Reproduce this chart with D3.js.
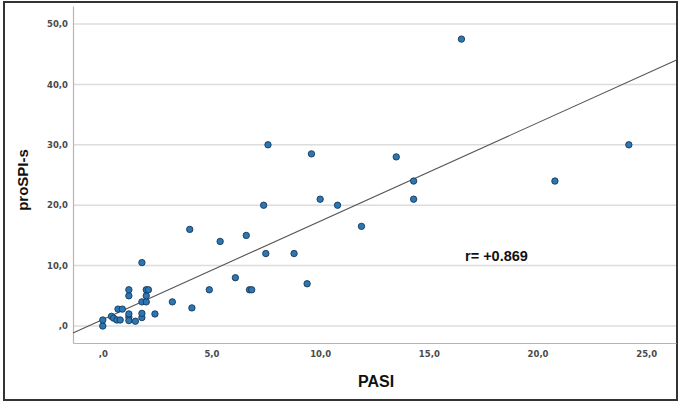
<!DOCTYPE html>
<html>
<head>
<meta charset="utf-8">
<script src="https://cdnjs.cloudflare.com/ajax/libs/d3/7.8.5/d3.min.js"></script>
<style>
body { margin: 0; background: #fff; }
.tick-label { font-family: "DejaVu Sans", sans-serif; font-weight: bold; font-size: 8.5px; fill: #4a4a4a; }
.axis-title { font-family: "Liberation Sans", Arial, sans-serif; font-weight: bold; fill: #111; }
</style>
</head>
<body>
<div class="scatter"></div>
<script>

// PASI vs proSPI-s
var pasi = [0.0, 0.0, 0.4, 0.5, 0.65, 0.8, 0.7, 0.9, 1.2, 1.2, 1.5, 1.2, 1.2, 1.2,
            1.8, 1.8, 1.8, 2.0, 2.0, 2.0, 2.1, 2.4, 1.8, 3.2, 4.1, 4.9,
            4.0, 5.4, 6.6, 7.4, 7.6, 6.1, 6.75, 6.85, 7.5, 8.8, 9.4, 9.6, 10.0,
            10.8, 11.9, 13.5, 14.3, 14.3, 16.5, 20.8, 24.2]
var prospi = [0.0, 1.0, 1.6, 1.3, 1.0, 1.0, 2.8, 2.8, 1.5, 0.9, 0.8, 2.0, 5.0, 6.0,
              1.4, 2.1, 4.0, 4.0, 5.0, 6.0, 6.0, 2.0, 10.5, 4.0, 3.0, 6.0,
              16.0, 14.0, 15.0, 20.0, 30.0, 8.0, 6.0, 6.0, 12.0, 12.0, 7.0, 28.5, 21.0,
              20.0, 16.5, 28.0, 24.0, 21.0, 47.5, 24.0, 30.0]

// fit line as drawn in the original (intercept, slope)
var fitIntercept = 1.09
var fitSlope = 1.627

var xTicks = [0, 5, 10, 15, 20, 25]
var yTicks = [0, 10, 20, 30, 40, 50]
var rLabel = "r= +0.869"

var width = 678,
    height = 405,
    plot = {left: 73, right: 676, top: 6, bottom: 343}

var svg = d3.select(".scatter")
  .append("svg")
  .attr("width", width)
  .attr("height", height)

var x = d3.scaleLinear()
  .domain([-1.37, 26.37])
  .range([plot.left, plot.right])

var y = d3.scaleLinear()
  .domain([-2.81, 52.98])
  .range([plot.bottom, plot.top])

var fmt = function(v) {
  // SPSS style: comma decimal, no leading zero
  var s = d3.format(".1f")(v).replace(".", ",")
  return s.replace(/^0,/, ",")
}

var points = pasi.map(function(d, i) { return {x: d, y: prospi[i]} })

// outer frame
svg.append("rect")
  .attr("x", 4).attr("y", 2)
  .attr("width", 673).attr("height", 398)
  .attr("fill", "none")
  .attr("stroke", "#333")
  .attr("stroke-width", 2)

// horizontal grid
svg.append("g")
  .selectAll("line")
  .data(yTicks)
  .enter()
  .append("line")
  .attr("x1", plot.left)
  .attr("x2", plot.right)
  .attr("y1", function(d) { return y(d) })
  .attr("y2", function(d) { return y(d) })
  .attr("stroke", "#dcdcdc")
  .attr("stroke-width", 1.5)

// axes lines
svg.append("g")
  .attr("transform", "translate(" + plot.left + ",0)")
  .call(d3.axisLeft(y).tickValues(yTicks).tickFormat(fmt).tickSize(0).tickPadding(5))
svg.append("g")
  .attr("transform", "translate(0," + plot.bottom + ")")
  .call(d3.axisBottom(x).tickValues(xTicks).tickFormat(fmt).tickSize(0).tickPadding(8))

svg.selectAll(".domain").attr("stroke", "#b5b5b5").attr("stroke-width", 1.2)
svg.selectAll(".tick text").attr("class", "tick-label")

var xd = x.domain()

svg.append("line")
  .attr("x1", x(xd[0]))
  .attr("y1", y(fitIntercept + fitSlope * xd[0]))
  .attr("x2", x(xd[1]))
  .attr("y2", y(fitIntercept + fitSlope * xd[1]))
  .attr("stroke", "#555")
  .attr("stroke-width", 1.1)

svg.append("g")
  .selectAll("circle")
  .data(points)
  .enter()
  .append("circle")
  .attr("cx", function(d) { return x(d.x) })
  .attr("cy", function(d) { return y(d.y) })
  .attr("r", 3.2)
  .attr("fill", "#2b77b3")
  .attr("stroke", "#17395a")
  .attr("stroke-width", 0.9)

svg.append("text")
  .attr("class", "axis-title")
  .attr("x", 465)
  .attr("y", 261)
  .attr("font-size", "14.5px")
  .attr("fill", "#222")
  .text(rLabel)

svg.append("text")
  .attr("class", "axis-title")
  .attr("x", 376)
  .attr("y", 387)
  .attr("text-anchor", "middle")
  .attr("font-size", "16px")
  .text("PASI")

svg.append("text")
  .attr("class", "axis-title")
  .attr("transform", "translate(28,180) rotate(-90)")
  .attr("text-anchor", "middle")
  .attr("font-size", "15px")
  .text("proSPI-s")

</script>
</body>
</html>
